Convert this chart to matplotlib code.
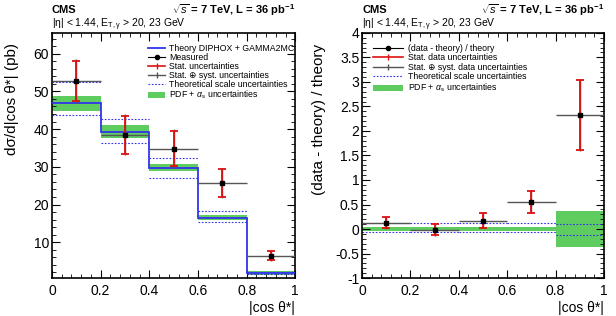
import matplotlib
matplotlib.use("Agg")
import matplotlib.pyplot as plt
import numpy as np
from matplotlib.ticker import MultipleLocator
from matplotlib.patches import Patch
from matplotlib.lines import Line2D

plt.rcParams['font.family'] = ['Liberation Sans', 'DejaVu Sans']
plt.rcParams['mathtext.fontset'] = 'custom'
plt.rcParams['mathtext.rm'] = 'Liberation Sans'
plt.rcParams['mathtext.it'] = 'Liberation Sans:italic'
plt.rcParams['mathtext.bf'] = 'Liberation Sans:bold'

bin_edges = [0.0, 0.2, 0.4, 0.6, 0.8, 1.0]
bin_centers = [0.1, 0.3, 0.5, 0.7, 0.9]

# Left panel: cross section
measured = [52.7, 38.5, 34.8, 25.7, 6.4]
stat_lo = [47.5, 33.5, 30.3, 22.0, 5.2]
stat_hi = [58.0, 43.5, 39.5, 29.3, 7.8]
tot_lo = [47.0, 33.0, 29.8, 21.6, 5.0]
tot_hi = [58.5, 44.0, 40.0, 29.7, 8.0]
theory = [46.8, 39.2, 29.7, 16.5, 1.8]
pdf_lo = [44.8, 37.5, 29.0, 15.8, 1.3]
pdf_hi = [48.8, 41.0, 30.7, 17.2, 2.5]
scale_lo = [43.6, 36.4, 27.1, 15.4, 1.5]
scale_hi = [52.6, 42.8, 32.4, 18.3, 2.0]

# Right panel: (data - theory)/theory
ratio = [0.13, -0.02, 0.17, 0.55, 2.32]
r_stat_lo = [0.02, -0.13, 0.03, 0.33, 1.62]
r_stat_hi = [0.24, 0.10, 0.33, 0.78, 3.03]
r_tot_lo = [0.01, -0.14, 0.02, 0.32, 1.60]
r_tot_hi = [0.25, 0.11, 0.34, 0.79, 3.05]
r_pdf_lo = [-0.05, -0.05, -0.05, -0.05, -0.36]
r_pdf_hi = [0.04, 0.04, 0.04, 0.04, 0.37]
r_scale_lo = [-0.07, -0.07, -0.07, -0.07, -0.12]
r_scale_hi = [0.12, 0.12, 0.12, 0.12, 0.10]

fig = plt.figure(figsize=(6.16, 3.16), dpi=100)
axL = fig.add_axes([0.0844, 0.120, 0.395, 0.776])
axR = fig.add_axes([0.5877, 0.120, 0.3928, 0.776])

green = '#5fcc5f'
blue = '#3333ee'
red = '#dd1111'
gray = '#555555'

def style(ax, ymaj, ymin):
    ax.xaxis.set_major_locator(MultipleLocator(0.2))
    ax.xaxis.set_minor_locator(MultipleLocator(0.04))
    ax.yaxis.set_major_locator(MultipleLocator(ymaj))
    ax.yaxis.set_minor_locator(MultipleLocator(ymin))
    ax.tick_params(which='both', direction='in', top=True, right=True, labelsize=10)
    ax.tick_params(axis='x', pad=4)
    ax.tick_params(axis='y', pad=2)
    ax.tick_params(which='major', length=6)
    ax.tick_params(which='minor', length=3)
    ax.set_xlim(0, 1)
    ax.set_xticks([0, 0.2, 0.4, 0.6, 0.8, 1.0])
    ax.set_xticklabels(['0', '0.2', '0.4', '0.6', '0.8', '1'])
    for s in ax.spines.values():
        s.set_linewidth(1.2)

def draw(ax, cen, val, slo, shi, tlo, thi, plo, phi, sclo, schi, th=None):
    for i in range(5):
        x0, x1 = bin_edges[i], bin_edges[i + 1]
        ax.fill_between([x0, x1], [plo[i]] * 2, [phi[i]] * 2, color=green, lw=0, zorder=1)
        ax.plot([x0, x1], [sclo[i]] * 2, ls=(0, (1.5, 1.5)), color=blue, lw=0.8, zorder=2)
        ax.plot([x0, x1], [schi[i]] * 2, ls=(0, (1.5, 1.5)), color=blue, lw=0.8, zorder=2)
    if th is not None:
        ax.stairs(th, bin_edges, color=blue, lw=1.3, zorder=3, baseline=None)
    cen = np.array(cen); val = np.array(val)
    ax.errorbar(cen, val, xerr=0.1, yerr=[val - np.array(tlo), np.array(thi) - val],
                fmt='none', ecolor=gray, elinewidth=1.0, capsize=0, zorder=4)
    ax.errorbar(cen, val, yerr=[val - np.array(slo), np.array(shi) - val],
                fmt='none', ecolor=red, elinewidth=1.3, capsize=3, capthick=1.3, zorder=5)
    ax.plot(cen, val, 's', color='black', ms=3.5, zorder=6)

draw(axL, bin_centers, measured, stat_lo, stat_hi, tot_lo, tot_hi, pdf_lo, pdf_hi, scale_lo, scale_hi, th=theory)
style(axL, 10, 2)
axL.set_ylim(0.5, 65.5)
axL.set_yticks([10, 20, 30, 40, 50, 60])
axL.set_ylabel('dσ/d|cos θ*| (pb)', fontsize=11)
axL.yaxis.set_label_coords(-0.135, 0.73)

draw(axR, bin_centers, ratio, r_stat_lo, r_stat_hi, r_tot_lo, r_tot_hi, r_pdf_lo, r_pdf_hi, r_scale_lo, r_scale_hi)
style(axR, 0.5, 0.1)
axR.set_ylim(-1, 4)
axR.set_yticks([-1, -0.5, 0, 0.5, 1, 1.5, 2, 2.5, 3, 3.5, 4])
axR.set_yticklabels(['-1', '-0.5', '0', '0.5', '1', '1.5', '2', '2.5', '3', '3.5', '4'])
axR.set_ylabel('(data - theory) / theory', fontsize=11)
axR.yaxis.set_label_coords(-0.15, 0.645)

for ax in (axL, axR):
    ax.text(1.0, -0.124, '|cos θ*|', transform=ax.transAxes, fontsize=10, ha='right', va='center')
    ax.text(0.0, 1.094, 'CMS', transform=ax.transAxes, fontsize=8, fontweight='bold', ha='left', va='center')
    ax.text(1.0, 1.094, r'$\sqrt{s}$ = 7 TeV, L = 36 pb$^{\mathregular{-1}}$', transform=ax.transAxes,
            fontsize=8, fontweight='bold', ha='right', va='center')
    ax.text(0.0, 1.033, r'|η| < 1.44, E$_{\mathregular{T,γ}}$ > 20, 23 GeV', transform=ax.transAxes,
            fontsize=7.5, ha='left', va='center')

hL = [Line2D([], [], color=blue, lw=1.3),
      Line2D([], [], color='black', marker='o', ms=3, lw=0.8),
      Line2D([], [], color=red, lw=1.2, marker='|', ms=5),
      Line2D([], [], color=gray, lw=1.0, marker='|', ms=5),
      Line2D([], [], color=blue, lw=0.8, ls=(0, (1.5, 1.5))),
      Patch(facecolor=green, edgecolor='none')]
lL = ['Theory DIPHOX + GAMMA2MC', 'Measured', 'Stat. uncertainties',
      'Stat. ⊕ syst. uncertainties', 'Theoretical scale uncertainties', r'PDF + $\alpha_{\mathregular{s}}$ uncertainties']
axL.legend(hL, lL, loc='upper right', bbox_to_anchor=(1.02, 0.98), fontsize=6.3, frameon=False,
           handlelength=2.0, labelspacing=0.0, borderpad=0.2, handletextpad=0.4)

lR = ['(data - theory) / theory', 'Stat. data uncertainties', 'Stat. ⊕ syst. data uncertainties',
      'Theoretical scale uncertainties', r'PDF + $\alpha_{\mathregular{s}}$ uncertainties']
axR.legend(hL[1:], lR, loc='upper left', bbox_to_anchor=(0.02, 0.98), fontsize=6.3, frameon=False,
           handlelength=3.4, labelspacing=0.05, borderpad=0.2, handletextpad=0.6)

fig.savefig('out.png', dpi=100)
